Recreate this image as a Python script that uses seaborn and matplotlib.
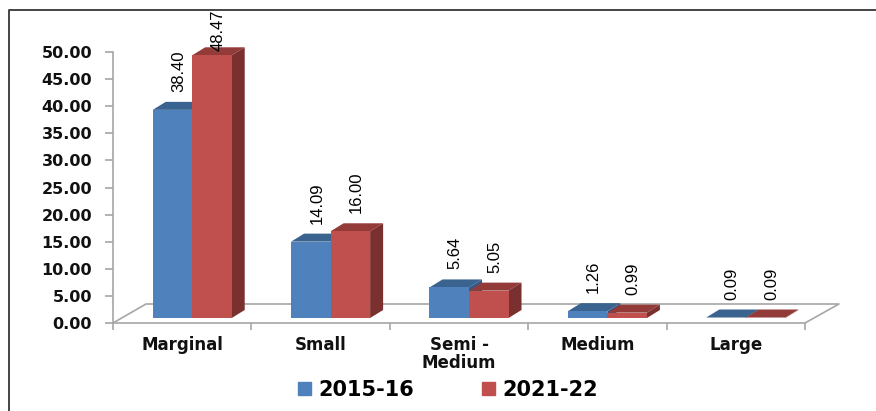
import matplotlib
matplotlib.use("Agg")
import matplotlib.pyplot as plt
import matplotlib.patches as mpatches
import pandas as pd
import seaborn as sns

W, H = 876, 411

categories = ["Marginal", "Small", "Semi -\nMedium", "Medium", "Large"]
periods = ["2015-16", "2021-22"]
values_2015 = [38.40, 14.09, 5.64, 1.26, 0.09]
values_2021 = [48.47, 16.00, 5.05, 0.99, 0.09]
y_ticks = [0, 5, 10, 15, 20, 25, 30, 35, 40, 45, 50]

front_colours = ["#4f81bd", "#c0504d"]
top_colours = ["#3b6390", "#933b39"]
side_colours = ["#355a85", "#7a302e"]
grey = "#a6a6a6"

df = pd.DataFrame({
    "category": categories * 2,
    "period": [periods[0]] * 5 + [periods[1]] * 5,
    "value": values_2015 + values_2021,
})

sns.set_theme(style="white")
fig = plt.figure(figsize=(W / 100, H / 100), dpi=100)
ax = fig.add_axes([113 / W, 1 - 323 / H, 692 / W, 271 / H])

sns.barplot(data=df, x="category", y="value", hue="period", hue_order=periods,
            palette=front_colours, saturation=1, width=0.571, gap=0, legend=False,
            linewidth=0, ax=ax, zorder=3)
ax.set_xlim(-0.5, 4.5)
ax.set_ylim(0, 50)

# pixels to data units, used for the fake 3d depth
px = 5 / 692
py = 50 / 271
depth_x, depth_y = 13 * px, 8 * py
shift_x, shift_y = 10 * px, 5 * py

# floor of the 3d box
floor_x = [-0.5, -0.5 + 33 * px, 4.5 + 34 * px, 4.5]
floor_y = [0, 19 * py, 19 * py, 0]
ax.plot(floor_x, floor_y, color=grey, lw=1.2, clip_on=False, zorder=1)

for i, container in enumerate(ax.containers):
    for bar, value in zip(container.patches, (values_2015, values_2021)[i]):
        bar.set_x(bar.get_x() + shift_x)
        bar.set_y(shift_y)
        x0, w = bar.get_x(), bar.get_width()
        x1 = x0 + w
        top = shift_y + value
        ax.add_patch(mpatches.Polygon(
            [(x0, top), (x1, top), (x1 + depth_x, top + depth_y), (x0 + depth_x, top + depth_y)],
            closed=True, fc=top_colours[i], ec="none", clip_on=False, zorder=2 + i * 2))
        ax.add_patch(mpatches.Polygon(
            [(x1, shift_y), (x1 + depth_x, shift_y + depth_y), (x1 + depth_x, top + depth_y), (x1, top)],
            closed=True, fc=side_colours[i], ec="none", clip_on=False, zorder=2 + i * 2))
        bar.set_zorder(3 + i * 2)
        label_y = min(top + depth_y + 10 * py, 50.2)
        ax.text(x0 + w / 2 + 6 * px, label_y, f"{value:.2f}", rotation=90, ha="center", va="bottom",
                fontsize=12, family="Liberation Sans", color="black", clip_on=False, zorder=8)

for name in ["top", "right"]:
    ax.spines[name].set_visible(False)
for name in ["left", "bottom"]:
    ax.spines[name].set_color(grey)
    ax.spines[name].set_linewidth(1.2)

ax.set_xlabel("")
ax.set_ylabel("")
ax.set_xticks(range(5))
ax.set_xticklabels(categories, fontsize=12, fontweight="bold", family="DejaVu Sans",
                   color="#111111", linespacing=1.05)
ax.set_xticks([i - 0.5 for i in range(6)], minor=True)
ax.tick_params(axis="x", which="major", length=0, pad=9)
ax.tick_params(axis="x", which="minor", length=5, width=1.2, color=grey, bottom=True)
ax.set_yticks(y_ticks)
ax.set_yticklabels([f"{t:.2f}" for t in y_ticks], fontsize=11.5, fontweight="bold",
                   family="DejaVu Sans", color="#111111")
ax.tick_params(axis="y", length=6, width=1.2, color=grey, pad=9, left=True)

handles = [mpatches.Patch(color=c, label=p) for c, p in zip(front_colours, periods)]
fig.legend(handles=handles, loc="center", bbox_to_anchor=(448 / W, 1 - 390 / H), ncol=2, frameon=False,
           prop={"family": "DejaVu Sans", "weight": "bold", "size": 15}, labelcolor="black",
           handlelength=0.62, handleheight=0.62, handletextpad=0.33, columnspacing=3.3)

# chart frame
fig.add_artist(plt.Line2D([9 / W, 9 / W, 1], [0, 1 - 10 / H, 1 - 10 / H], color="#444444", lw=1.4))

fig.savefig("out.png", dpi=100)
